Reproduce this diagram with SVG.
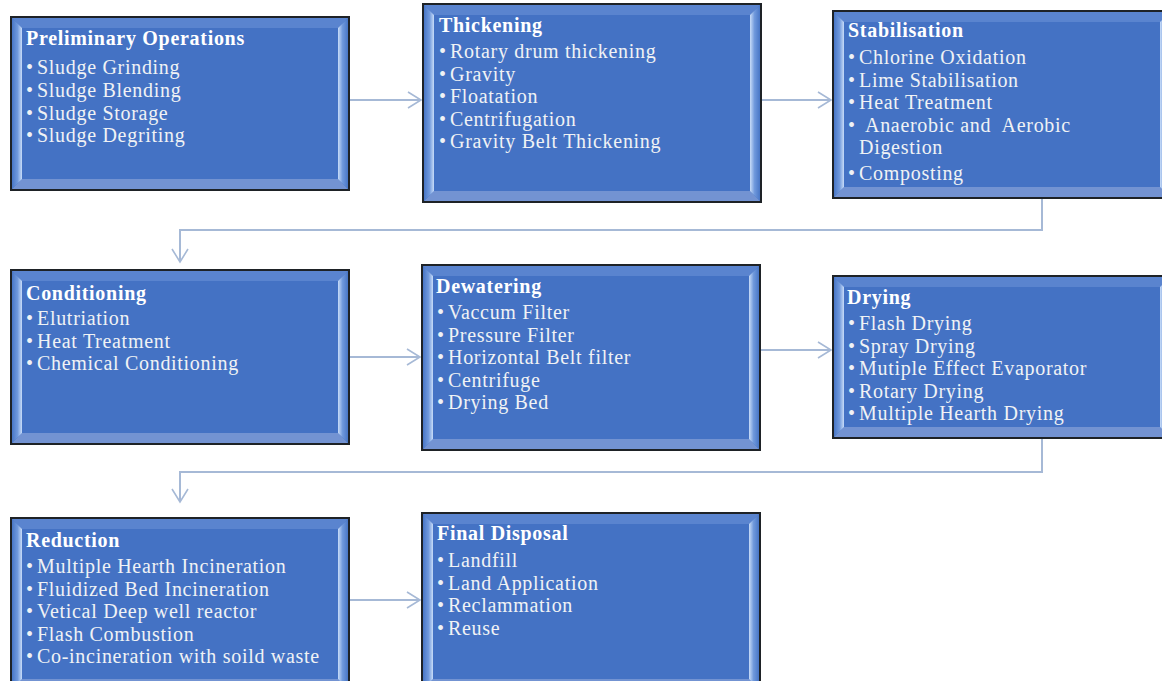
<svg xmlns="http://www.w3.org/2000/svg" width="1162" height="681" viewBox="0 0 1162 681">
<defs>
<style>
.bx{fill:#4472C4;stroke:#1E2226;stroke-width:2}
.bt{fill:#5A84CF}
.bb{fill:#7393D2}
.bl{fill:url(#gL)}
.br{fill:url(#gR)}
.t{font-family:"Liberation Serif","Times New Roman",serif;font-size:20px;letter-spacing:0.7px;fill:#F0F2F5}
.h{font-weight:bold;fill:#FFFFFF}
.c{fill:none;stroke:#A6B9D6;stroke-width:2}
</style>
<linearGradient id="gL" x1="0" y1="0" x2="1" y2="0">
<stop offset="0" stop-color="#4876C6"/>
<stop offset="0.55" stop-color="#7099DC"/>
<stop offset="1" stop-color="#C8DCF8"/>
</linearGradient>
<linearGradient id="gR" x1="0" y1="0" x2="1" y2="0">
<stop offset="0" stop-color="#C8DCF8"/>
<stop offset="0.45" stop-color="#7099DC"/>
<stop offset="1" stop-color="#4876C6"/>
</linearGradient>
<marker id="ah" viewBox="0 0 16 18" markerWidth="16" markerHeight="18" refX="14" refY="9" orient="auto" markerUnits="userSpaceOnUse">
<path d="M1,1 L14,9 L1,17" fill="none" stroke="#A6B9D6" stroke-width="1.6"/>
</marker>
</defs>
<rect width="1162" height="681" fill="#FFFFFF"/>

<g id="connectors">
<path class="c" d="M349,100 H421" marker-end="url(#ah)"/>
<path class="c" d="M761,100 H831" marker-end="url(#ah)"/>
<path class="c" d="M1042,198 V230 H180 V262" marker-end="url(#ah)"/>
<path class="c" d="M349,357 H420" marker-end="url(#ah)"/>
<path class="c" d="M760,350 H831" marker-end="url(#ah)"/>
<path class="c" d="M1042,438 V472 H180 V502" marker-end="url(#ah)"/>
<path class="c" d="M349,600 H420" marker-end="url(#ah)"/>
</g>

<g id="preliminary" transform="translate(11,17)">
<rect class="bx" x="0" y="0" width="338" height="173"/>
<polygon class="bt" points="1,1 337,1 327,11 11,11"/>
<polygon class="bb" points="1,172 337,172 327,162 11,162"/>
<polygon class="bl" points="1,1 11,11 11,162 1,172"/>
<polygon class="br" points="327,11 337,1 337,172 327,162"/>
<text class="t h" x="15" y="28">Preliminary Operations</text>
<text class="t"><tspan x="15" y="57">•</tspan><tspan x="26" y="57">Sludge Grinding</tspan></text>
<text class="t"><tspan x="15" y="80">•</tspan><tspan x="26" y="80">Sludge Blending</tspan></text>
<text class="t"><tspan x="15" y="102.5">•</tspan><tspan x="26" y="102.5">Sludge Storage</tspan></text>
<text class="t"><tspan x="15" y="125">•</tspan><tspan x="26" y="125">Sludge Degriting</tspan></text>
</g>

<g id="thickening" transform="translate(423,4)">
<rect class="bx" x="0" y="0" width="338" height="198"/>
<polygon class="bt" points="1,1 337,1 327,11 11,11"/>
<polygon class="bb" points="1,197 337,197 327,187 11,187"/>
<polygon class="bl" points="1,1 11,11 11,187 1,197"/>
<polygon class="br" points="327,11 337,1 337,197 327,187"/>
<text class="t h" x="16" y="28">Thickening</text>
<text class="t"><tspan x="16" y="54">•</tspan><tspan x="27" y="54">Rotary drum thickening</tspan></text>
<text class="t"><tspan x="16" y="76.5">•</tspan><tspan x="27" y="76.5">Gravity</tspan></text>
<text class="t"><tspan x="16" y="99">•</tspan><tspan x="27" y="99">Floatation</tspan></text>
<text class="t"><tspan x="16" y="121.5">•</tspan><tspan x="27" y="121.5">Centrifugation</tspan></text>
<text class="t"><tspan x="16" y="144">•</tspan><tspan x="27" y="144">Gravity Belt Thickening</tspan></text>
</g>

<g id="stabilisation" transform="translate(833,11)">
<rect class="bx" x="0" y="0" width="338" height="187"/>
<polygon class="bt" points="1,1 337,1 327,11 11,11"/>
<polygon class="bb" points="1,186 337,186 327,176 11,176"/>
<polygon class="bl" points="1,1 11,11 11,176 1,186"/>
<polygon class="br" points="327,11 337,1 337,186 327,176"/>
<text class="t h" x="15" y="26">Stabilisation</text>
<text class="t"><tspan x="15" y="53">•</tspan><tspan x="26" y="53">Chlorine Oxidation</tspan></text>
<text class="t"><tspan x="15" y="75.5">•</tspan><tspan x="26" y="75.5">Lime Stabilisation</tspan></text>
<text class="t"><tspan x="15" y="98">•</tspan><tspan x="26" y="98">Heat Treatment</tspan></text>
<text class="t" xml:space="preserve"><tspan x="15" y="120.5">•</tspan><tspan x="32" y="120.5">Anaerobic and  Aerobic</tspan></text>
<text class="t" x="26" y="143">Digestion</text>
<text class="t"><tspan x="15" y="169">•</tspan><tspan x="26" y="169">Composting</tspan></text>
</g>

<g id="conditioning" transform="translate(11,270)">
<rect class="bx" x="0" y="0" width="338" height="174"/>
<polygon class="bt" points="1,1 337,1 327,11 11,11"/>
<polygon class="bb" points="1,173 337,173 327,163 11,163"/>
<polygon class="bl" points="1,1 11,11 11,163 1,173"/>
<polygon class="br" points="327,11 337,1 337,173 327,163"/>
<text class="t h" x="15" y="30">Conditioning</text>
<text class="t"><tspan x="15" y="55">•</tspan><tspan x="26" y="55">Elutriation</tspan></text>
<text class="t"><tspan x="15" y="77.5">•</tspan><tspan x="26" y="77.5">Heat Treatment</tspan></text>
<text class="t"><tspan x="15" y="100">•</tspan><tspan x="26" y="100">Chemical Conditioning</tspan></text>
</g>

<g id="dewatering" transform="translate(422,265)">
<rect class="bx" x="0" y="0" width="338" height="185"/>
<polygon class="bt" points="1,1 337,1 327,11 11,11"/>
<polygon class="bb" points="1,184 337,184 327,174 11,174"/>
<polygon class="bl" points="1,1 11,11 11,174 1,184"/>
<polygon class="br" points="327,11 337,1 337,184 327,174"/>
<text class="t h" x="14" y="28">Dewatering</text>
<text class="t"><tspan x="15" y="54">•</tspan><tspan x="26" y="54">Vaccum Filter</tspan></text>
<text class="t"><tspan x="15" y="76.5">•</tspan><tspan x="26" y="76.5">Pressure Filter</tspan></text>
<text class="t"><tspan x="15" y="99">•</tspan><tspan x="26" y="99">Horizontal Belt filter</tspan></text>
<text class="t"><tspan x="15" y="121.5">•</tspan><tspan x="26" y="121.5">Centrifuge</tspan></text>
<text class="t"><tspan x="15" y="144">•</tspan><tspan x="26" y="144">Drying Bed</tspan></text>
</g>

<g id="drying" transform="translate(833,276)">
<rect class="bx" x="0" y="0" width="338" height="162"/>
<polygon class="bt" points="1,1 337,1 327,11 11,11"/>
<polygon class="bb" points="1,161 337,161 327,151 11,151"/>
<polygon class="bl" points="1,1 11,11 11,151 1,161"/>
<polygon class="br" points="327,11 337,1 337,161 327,151"/>
<text class="t h" x="14" y="28">Drying</text>
<text class="t"><tspan x="15" y="54">•</tspan><tspan x="26" y="54">Flash Drying</tspan></text>
<text class="t"><tspan x="15" y="76.5">•</tspan><tspan x="26" y="76.5">Spray Drying</tspan></text>
<text class="t"><tspan x="15" y="99">•</tspan><tspan x="26" y="99">Mutiple Effect Evaporator</tspan></text>
<text class="t"><tspan x="15" y="121.5">•</tspan><tspan x="26" y="121.5">Rotary Drying</tspan></text>
<text class="t"><tspan x="15" y="144">•</tspan><tspan x="26" y="144">Multiple Hearth Drying</tspan></text>
</g>

<g id="reduction" transform="translate(11,518)">
<rect class="bx" x="0" y="0" width="338" height="172"/>
<polygon class="bt" points="1,1 337,1 327,11 11,11"/>
<polygon class="bb" points="1,171 337,171 327,161 11,161"/>
<polygon class="bl" points="1,1 11,11 11,161 1,171"/>
<polygon class="br" points="327,11 337,1 337,171 327,161"/>
<text class="t h" x="15" y="29">Reduction</text>
<text class="t"><tspan x="15" y="55">•</tspan><tspan x="26" y="55">Multiple Hearth Incineration</tspan></text>
<text class="t"><tspan x="15" y="77.5">•</tspan><tspan x="26" y="77.5">Fluidized Bed Incineration</tspan></text>
<text class="t"><tspan x="15" y="100">•</tspan><tspan x="26" y="100">Vetical Deep well reactor</tspan></text>
<text class="t"><tspan x="15" y="122.5">•</tspan><tspan x="26" y="122.5">Flash Combustion</tspan></text>
<text class="t"><tspan x="15" y="145">•</tspan><tspan x="26" y="145">Co-incineration with soild waste</tspan></text>
</g>

<g id="final-disposal" transform="translate(422,513)">
<rect class="bx" x="0" y="0" width="338" height="177"/>
<polygon class="bt" points="1,1 337,1 327,11 11,11"/>
<polygon class="bb" points="1,176 337,176 327,166 11,166"/>
<polygon class="bl" points="1,1 11,11 11,166 1,176"/>
<polygon class="br" points="327,11 337,1 337,176 327,166"/>
<text class="t h" x="15" y="27">Final Disposal</text>
<text class="t"><tspan x="15" y="54">•</tspan><tspan x="26" y="54">Landfill</tspan></text>
<text class="t"><tspan x="15" y="76.5">•</tspan><tspan x="26" y="76.5">Land Application</tspan></text>
<text class="t"><tspan x="15" y="99">•</tspan><tspan x="26" y="99">Reclammation</tspan></text>
<text class="t"><tspan x="15" y="121.5">•</tspan><tspan x="26" y="121.5">Reuse</tspan></text>
</g>
</svg>
